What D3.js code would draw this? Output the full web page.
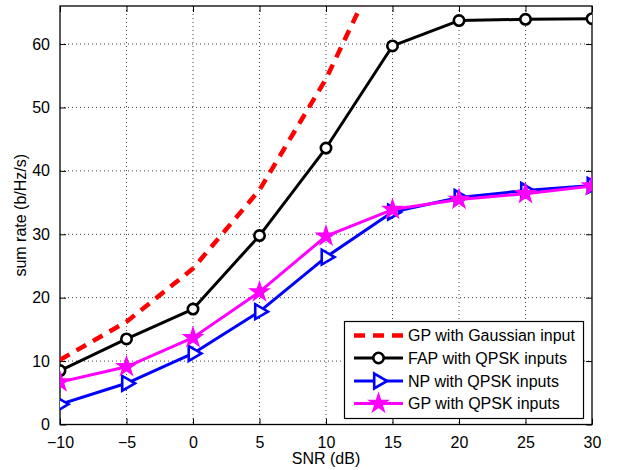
<!DOCTYPE html>
<html>
<head>
<meta charset="utf-8">
<script src="https://cdn.jsdelivr.net/npm/d3@7"></script>
<style>
  html, body { margin: 0; padding: 0; background: #fff; }
  svg { display: block; font-family: "Liberation Sans", Arial, Helvetica, sans-serif; }
</style>
</head>
<body>
<svg id="chart" width="619" height="470"></svg>
<script>
// SNR grid (dB)
const snr = [-10, -5, 0, 5, 10, 15, 20, 25, 30];
// Sum rate (b/Hz/s) for each scheme
const gpGaussian = [10.2, 16.2, 24.6, 37.0, 54.5, 76.5];
const fapQpsk    = [8.5, 13.5, 18.2, 29.8, 43.6, 59.7, 63.7, 63.9, 64.0];
const npQpsk     = [3.2, 6.5, 11.2, 17.8, 26.4, 33.5, 35.8, 36.9, 37.7];
const gpQpsk     = [6.7, 9.1, 13.7, 20.9, 29.7, 33.9, 35.5, 36.4, 37.6];
const seriesNames = ["GP with Gaussian input", "FAP with QPSK inputs", "NP with QPSK inputs", "GP with QPSK inputs"];
const xTicks = [-10, -5, 0, 5, 10, 15, 20, 25, 30];
const yTicks = [0, 10, 20, 30, 40, 50, 60];

const svg = d3.select("#chart");
const L = 60, R = 592, T = 6, B = 424.5;
const x = d3.scaleLinear().domain([-10, 30]).range([L, R]);
const y = d3.scaleLinear().domain([0, 66]).range([B, T]);

// dotted grid
const grid = svg.append("g").attr("stroke", "#000").attr("stroke-width", 1)
  .attr("stroke-dasharray", "1,3").attr("opacity", 0.75);
xTicks.slice(1, -1).forEach(v => grid.append("line")
  .attr("x1", x(v)).attr("x2", x(v)).attr("y1", T).attr("y2", B));
yTicks.slice(1).forEach(v => grid.append("line")
  .attr("x1", L).attr("x2", R).attr("y1", y(v)).attr("y2", y(v)));

// axes with inward ticks on all sides
const fmt = d => d < 0 ? "\u2212" + Math.abs(d) : String(d);
const styleAxis = g => {
  g.select(".domain").remove();
  g.selectAll("line").attr("stroke", "#000");
  g.selectAll("text").attr("font-size", 16).attr("fill", "#000")
    .attr("font-family", "'Liberation Sans', Arial, sans-serif");
};
svg.append("g").attr("transform", `translate(0,${B})`)
  .call(d3.axisBottom(x).tickValues(xTicks).tickFormat(fmt).tickSizeInner(-6).tickPadding(12))
  .call(styleAxis);
svg.append("g").attr("transform", `translate(${L},0)`)
  .call(d3.axisLeft(y).tickValues(yTicks).tickFormat(fmt).tickSizeInner(-6).tickPadding(10))
  .call(styleAxis);
svg.append("g").attr("transform", `translate(0,${T})`)
  .call(d3.axisTop(x).tickValues(xTicks).tickFormat("").tickSizeInner(-6))
  .call(styleAxis);
svg.append("g").attr("transform", `translate(${R},0)`)
  .call(d3.axisRight(y).tickValues(yTicks).tickFormat("").tickSizeInner(-6))
  .call(styleAxis);

svg.append("rect").attr("x", L).attr("y", T).attr("width", R - L).attr("height", B - T)
  .attr("fill", "none").attr("stroke", "#000").attr("stroke-width", 1.3);

// axis titles
svg.append("text").attr("x", (L + R) / 2).attr("y", 464).attr("text-anchor", "middle")
  .attr("font-size", 16).text("SNR (dB)");
svg.append("text").attr("transform", `translate(26,${(T + B) / 2}) rotate(-90)`)
  .attr("text-anchor", "middle").attr("font-size", 16).text("sum rate (b/Hz/s)");

svg.append("clipPath").attr("id", "plotClip").append("rect")
  .attr("x", L).attr("y", T).attr("width", R - L).attr("height", B - T);

const line = d3.line().x((d, i) => x(snr[i])).y(d => y(d));

// marker shapes
const circleMark = g => g.append("circle").attr("r", 5.2).attr("fill", "#fff")
  .attr("stroke", "#000").attr("stroke-width", 2.6);
const triPath = d3.symbol().type(d3.symbolTriangle).size(95)();
const triMark = g => g.append("path").attr("d", triPath).attr("transform", "rotate(90)")
  .attr("fill", "#fff").attr("stroke", "#0000ff").attr("stroke-width", 2.6);
const starPath = d3.symbol().type(d3.symbolStar).size(105)();
const starMark = g => g.append("path").attr("d", starPath)
  .attr("fill", "#ff00ff").attr("stroke", "#ff00ff").attr("stroke-width", 1.5);

const series = [
  { data: gpGaussian, color: "#ff0000", width: 4.5, dash: "11,8", mark: null },
  { data: fapQpsk, color: "#000000", width: 3, dash: null, mark: circleMark },
  { data: npQpsk, color: "#0000ff", width: 3, dash: null, mark: triMark },
  { data: gpQpsk, color: "#ff00ff", width: 3, dash: null, mark: starMark }
];

const plot = svg.append("g").attr("clip-path", "url(#plotClip)");
series.forEach(s => {
  const g = plot.append("g");
  g.append("path").datum(s.data).attr("d", line).attr("fill", "none")
    .attr("stroke", s.color).attr("stroke-width", s.width)
    .attr("stroke-dasharray", s.dash).attr("stroke-linejoin", "round");
  if (s.mark) {
    s.data.forEach((v, i) => {
      const m = g.append("g").attr("transform", `translate(${x(snr[i])},${y(v)})`);
      s.mark(m);
    });
  }
});

// legend
const lg = svg.append("g");
lg.append("rect").attr("x", 344.5).attr("y", 321.5).attr("width", 239).attr("height", 97)
  .attr("fill", "#fff").attr("stroke", "#000").attr("stroke-width", 1.2);
const rowY = [335.5, 358, 381, 403.5];
series.forEach((s, i) => {
  const yy = rowY[i];
  lg.append("line").attr("x1", 354).attr("x2", 403).attr("y1", yy).attr("y2", yy)
    .attr("stroke", s.color).attr("stroke-width", s.width).attr("stroke-dasharray", s.dash);
  if (s.mark) s.mark(lg.append("g").attr("transform", `translate(378.5,${yy})`));
  lg.append("text").attr("x", 408).attr("y", yy + 5.8).attr("font-size", 16).text(seriesNames[i]);
});
</script>
</body>
</html>
